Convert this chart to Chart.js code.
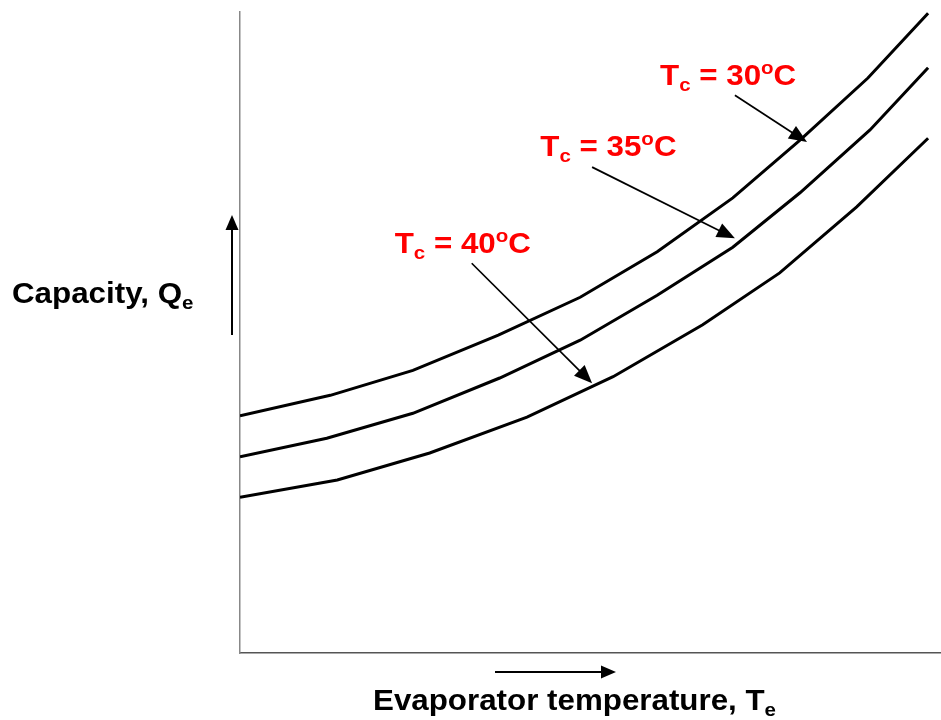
<!DOCTYPE html>
<html>
<head>
<meta charset="utf-8">
<script src="https://cdn.jsdelivr.net/npm/chart.js@4/dist/chart.umd.min.js"></script>
<style>
html,body{margin:0;padding:0;background:#fff;}
#wrap{width:941px;height:720px;position:relative;}
</style>
</head>
<body>
<div id="wrap"><canvas id="c"></canvas></div>
<script>
// Evaporator temperature (arbitrary units, 0..10) and capacity (arbitrary units, 0..10)
const xTc30 = [0, 1.29, 2.47, 3.69, 4.86, 5.96, 7.04, 8.0, 8.97, 9.83];
const yTc30 = [3.70, 4.02, 4.41, 4.96, 5.55, 6.26, 7.10, 8.00, 8.97, 9.98];
const xTc35 = [0, 1.24, 2.47, 3.71, 4.86, 5.96, 7.04, 8.0, 9.0, 9.83];
const yTc35 = [3.06, 3.35, 3.74, 4.29, 4.88, 5.58, 6.33, 7.18, 8.16, 9.13];
const xTc40 = [0, 1.39, 2.71, 4.1, 5.33, 6.61, 7.71, 8.81, 9.83];
const yTc40 = [2.43, 2.70, 3.12, 3.68, 4.31, 5.12, 5.93, 6.96, 8.03];

const seriesNames = ['30', '35', '40'];
// label anchor (left, baseline) in data units
const labelX = [6.0, 4.29, 2.21];
const labelY = [8.86, 7.75, 6.24];
// arrow start / tip in data units
const arrowFromX = [7.07, 5.03, 3.31];
const arrowFromY = [8.70, 7.58, 6.08];
const arrowToX = [8.10, 7.07, 5.03];
const arrowToY = [7.97, 6.47, 4.21];

const xTitle = 'Evaporator temperature, T';
const xTitleSub = 'e';
const yTitle = 'Capacity, Q';
const yTitleSub = 'e';

function pts(xs, ys){ return xs.map((x,i)=>({x:x, y:ys[i]})); }

function arrowHead(ctx, x1, y1, x2, y2, len, wid){
  const a = Math.atan2(y2-y1, x2-x1);
  ctx.beginPath();
  ctx.moveTo(x2, y2);
  ctx.lineTo(x2 - len*Math.cos(a) + wid/2*Math.sin(a), y2 - len*Math.sin(a) - wid/2*Math.cos(a));
  ctx.lineTo(x2 - len*Math.cos(a) - wid/2*Math.sin(a), y2 - len*Math.sin(a) + wid/2*Math.cos(a));
  ctx.closePath();
  ctx.fill();
}
function arrow(ctx, x1, y1, x2, y2, lw, len, wid){
  const a = Math.atan2(y2-y1, x2-x1);
  ctx.lineWidth = lw;
  ctx.beginPath();
  ctx.moveTo(x1, y1);
  ctx.lineTo(x2 - (len-2)*Math.cos(a), y2 - (len-2)*Math.sin(a));
  ctx.stroke();
  arrowHead(ctx, x1, y1, x2, y2, len, wid);
}

const FONT = '"Liberation Sans", Arial, sans-serif';
const BIG = 'bold 29px ' + FONT;
const SMALL = 'bold 19px ' + FONT;
const SX = 1.08;

function txt(ctx, s, x, y, font){
  ctx.save();
  ctx.font = font;
  ctx.translate(x, y);
  ctx.scale(SX, 1);
  ctx.fillText(s, 0, 0);
  const w = ctx.measureText(s).width * SX;
  ctx.restore();
  return x + w;
}

const annot = {
  id: 'annot',
  afterDraw(chart){
    const ctx = chart.ctx, xs = chart.scales.x, ys = chart.scales.y, ca = chart.chartArea;
    ctx.save();
    ctx.fillStyle = '#000'; ctx.strokeStyle = '#000';
    // series arrows
    for (let i=0;i<seriesNames.length;i++){
      arrow(ctx, xs.getPixelForValue(arrowFromX[i]), ys.getPixelForValue(arrowFromY[i]),
                 xs.getPixelForValue(arrowToX[i]), ys.getPixelForValue(arrowToY[i]), 1.7, 18, 15);
    }
    // series labels
    ctx.fillStyle = '#ff0000';
    ctx.textBaseline = 'alphabetic'; ctx.textAlign = 'left';
    for (let i=0;i<seriesNames.length;i++){
      let x = xs.getPixelForValue(labelX[i]);
      const y = ys.getPixelForValue(labelY[i]);
      x = txt(ctx, 'T', x, y, BIG);
      x = txt(ctx, 'c', x, y + 6, SMALL);
      x = txt(ctx, ' = ' + seriesNames[i], x, y, BIG);
      x = txt(ctx, 'o', x, y - 11, SMALL);
      txt(ctx, 'C', x, y, BIG);
    }
    // axis titles
    ctx.fillStyle = '#000';
    let x = 12, y = ca.top + 291;
    x = txt(ctx, yTitle, x, y, BIG);
    txt(ctx, yTitleSub, x, y + 6, SMALL);
    x = 373; y = ca.bottom + 57;
    x = txt(ctx, xTitle, x, y, BIG);
    txt(ctx, xTitleSub, x, y + 6, SMALL);
    // axis direction arrows
    arrow(ctx, ca.left - 8, ca.top + 323, ca.left - 8, ca.top + 203, 2, 15, 13);
    arrow(ctx, ca.left + 255, ca.bottom + 19, ca.left + 376, ca.bottom + 19, 2, 15, 13);
    ctx.restore();
  }
};

const ds = (xs, ys) => ({
  data: pts(xs, ys), showLine: true, borderColor: '#000', borderWidth: 3,
  pointRadius: 0, tension: 0, fill: false
});

new Chart(document.getElementById('c'), {
  type: 'scatter',
  data: { datasets: [ds(xTc30, yTc30), ds(xTc35, yTc35), ds(xTc40, yTc40)] },
  options: {
    responsive: true, maintainAspectRatio: false, animation: false,
    layout: { padding: { left: 240, right: 1, top: 12, bottom: 67 } },
    plugins: { legend: { display: false }, tooltip: { enabled: false } },
    scales: {
      x: { type: 'linear', min: 0, max: 10, grid: { display: false, drawTicks: false },
           ticks: { display: false }, border: { display: true, color: '#555', width: 1.5 } },
      y: { type: 'linear', min: 0, max: 10, grid: { display: false, drawTicks: false },
           ticks: { display: false }, border: { display: true, color: '#888', width: 1.5 } }
    }
  },
  plugins: [annot]
});
</script>
</body>
</html>
